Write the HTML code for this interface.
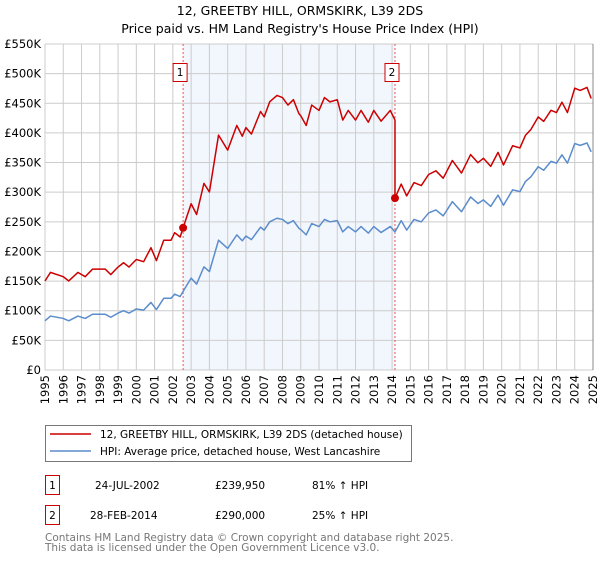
<!DOCTYPE html>
<html><head><meta charset="utf-8"><style>
body{margin:0;width:600px;height:560px;background:#fff;font-family:"DejaVu Sans","Liberation Sans",sans-serif;overflow:hidden}
svg text{font-family:"DejaVu Sans","Liberation Sans",sans-serif}
</style></head><body>
<svg id="c" width="600" height="560" xmlns="http://www.w3.org/2000/svg">
<text x="300" y="15" text-anchor="middle" font-size="12.5" fill="#000">12, GREETBY HILL, ORMSKIRK, L39 2DS</text>
<text x="300" y="33" text-anchor="middle" font-size="12.5" fill="#000">Price paid vs. HM Land Registry's House Price Index (HPI)</text>
<g id="plot"></g>
<g>
<rect x="45.5" y="425.5" width="366" height="36" fill="#fff" stroke="#777"/>
<line x1="50" y1="434" x2="91" y2="434" stroke="#cc0000" stroke-width="1.5"/>
<text x="100" y="438" font-size="10.5">12, GREETBY HILL, ORMSKIRK, L39 2DS (detached house)</text>
<line x1="50" y1="451" x2="91" y2="451" stroke="#5b8ccc" stroke-width="1.5"/>
<text x="100" y="455" font-size="10.5">HPI: Average price, detached house, West Lancashire</text>
</g>
<g font-size="10.5">
<rect x="45.5" y="475.5" width="14" height="19" fill="#fff" stroke="#cc0000"/>
<text x="52.5" y="489" text-anchor="middle">1</text>
<text x="95" y="489">24-JUL-2002</text>
<text x="215" y="489">£239,950</text>
<text x="312" y="489">81% ↑ HPI</text>
<rect x="45.5" y="505.5" width="14" height="19" fill="#fff" stroke="#cc0000"/>
<text x="52.5" y="519" text-anchor="middle">2</text>
<text x="90" y="519">28-FEB-2014</text>
<text x="215" y="519">£290,000</text>
<text x="312" y="519">25% ↑ HPI</text>
</g>
<text x="45" y="541" font-size="10.5" fill="#777">Contains HM Land Registry data © Crown copyright and database right 2025.</text>
<text x="45" y="551" font-size="10.5" fill="#777">This data is licensed under the Open Government Licence v3.0.</text>
</svg>
<script>
const hpiYears=[1995.0,1995.3,1996.0,1996.3,1996.8,1997.2,1997.6,1998.3,1998.6,1999.0,1999.3,1999.6,2000.0,2000.4,2000.8,2001.1,2001.5,2001.9,2002.1,2002.4,2002.56,2003.0,2003.3,2003.7,2004.0,2004.5,2005.0,2005.5,2005.8,2006.0,2006.3,2006.8,2007.0,2007.3,2007.7,2008.0,2008.3,2008.6,2008.9,2009.0,2009.3,2009.6,2010.0,2010.3,2010.6,2011.0,2011.3,2011.6,2012.0,2012.3,2012.7,2013.0,2013.4,2013.9,2014.16,2014.5,2014.8,2015.2,2015.6,2016.0,2016.4,2016.8,2017.3,2017.8,2018.3,2018.7,2019.0,2019.4,2019.8,2020.1,2020.6,2021.0,2021.3,2021.6,2022.0,2022.3,2022.7,2023.0,2023.3,2023.6,2024.0,2024.3,2024.67,2024.9];
const hpiValues=[83,91,87,83,91,87,94,94,89,96,100,96,103,101,114,102,121,121,128,124,132.6,155,145,174,166,219,205,228,218,226,220,241,236,250,256,254,247,252,239,237,228,247,242,254,250,252,233,242,233,242,231,242,232,242,233,252,236,254,250,265,270,260,284,267,292,281,287,276,295,278,304,301,318,326,343,337,352,349,363,349,382,379,383,368];
const saleYears=[2002.56,2014.16];
const salePrices=[239.95,290];
const saleLabels=["1","2"];
const yTicks=[0,50,100,150,200,250,300,350,400,450,500,550];
const yTickLabels=["£0","£50K","£100K","£150K","£200K","£250K","£300K","£350K","£400K","£450K","£500K","£550K"];
const xTicks=[1995,1996,1997,1998,1999,2000,2001,2002,2003,2004,2005,2006,2007,2008,2009,2010,2011,2012,2013,2014,2015,2016,2017,2018,2019,2020,2021,2022,2023,2024,2025];

const L=45,R=593,T=44,B=370;
const X=y=>L+(y-1995)/30*(R-L);
const Y=v=>B-v/550*(B-T);
const NS="http://www.w3.org/2000/svg";
const g=document.getElementById('plot');
function mk(t,a){const e=document.createElementNS(NS,t);for(const k in a)e.setAttribute(k,a[k]);g.appendChild(e);return e;}
function hpiAt(t){for(let i=1;i<hpiYears.length;i++){if(hpiYears[i]>=t){const f=(t-hpiYears[i-1])/(hpiYears[i]-hpiYears[i-1]);return hpiValues[i-1]+f*(hpiValues[i]-hpiValues[i-1]);}}return hpiValues[hpiValues.length-1];}

const sh=mk('rect',{x:X(saleYears[0]),y:T,width:X(saleYears[1])-X(saleYears[0]),height:B-T,fill:'#eef3fc',opacity:0.75});


yTicks.forEach((v,i)=>{
  const l=mk('line',{x1:L,x2:R,y1:Y(v),y2:Y(v),stroke:'#cccccc','stroke-width':1});
  
  
  const t=mk('text',{x:L-4,y:Y(v)+4,'text-anchor':'end','font-size':'11.5',fill:'#000'});
  t.textContent=yTickLabels[i];
  
  
});
xTicks.forEach(yr=>{
  const l=mk('line',{x1:X(yr),x2:X(yr),y1:T,y2:B,stroke:'#cccccc','stroke-width':1});
  
  
  const t=mk('text',{x:0,y:0,'text-anchor':'end','font-size':'11.5',fill:'#000',transform:`translate(${X(yr)+4},${B+5}) rotate(-90)`});
  t.textContent=yr;
  
  
});
const ax=mk('line',{x1:R,x2:R,y1:T,y2:B,stroke:'#888','stroke-width':1});



saleYears.forEach((s,i)=>{
  const l=mk('line',{x1:X(s),x2:X(s),y1:T,y2:B,stroke:'#ee5555','stroke-width':1,'stroke-dasharray':'2,2'});
  
  
  const r=mk('rect',{x:X(s)-10,y:63.5,width:14,height:18,fill:'#fff',stroke:'#cc0000'});
  
  
  const t=mk('text',{x:X(s)-3,y:76,'text-anchor':'middle','font-size':'10.5'});
  t.textContent=saleLabels[i];
  
  
});

const hp=mk('polyline',{points:hpiYears.map((t,i)=>X(t)+','+Y(hpiValues[i])).join(' '),fill:'none',stroke:'#5b8ccc','stroke-width':1.5,'stroke-linejoin':'round'});



const r1=salePrices[0]/hpiAt(saleYears[0]);
const r2=salePrices[1]/hpiAt(saleYears[1]);
const pts=[];
hpiYears.forEach((t,i)=>{
  if(t<saleYears[1]) pts.push([t,hpiValues[i]*r1]);
  else if(t===saleYears[1]){}
  else pts.push([t,hpiValues[i]*r2]);
});
const idx=pts.findIndex(p=>p[0]>saleYears[1]);
pts.splice(idx,0,[saleYears[1],hpiAt(saleYears[1])*r1],[saleYears[1],salePrices[1]]);
const pl=mk('polyline',{points:pts.map(p=>X(p[0])+','+Y(p[1])).join(' '),fill:'none',stroke:'#cc0000','stroke-width':1.5,'stroke-linejoin':'round'});



saleYears.forEach((s,i)=>{
  const c=mk('circle',{cx:X(s),cy:Y(salePrices[i]),r:4,fill:'#cc0000'});
  
  
});
</script>
</body></html>
